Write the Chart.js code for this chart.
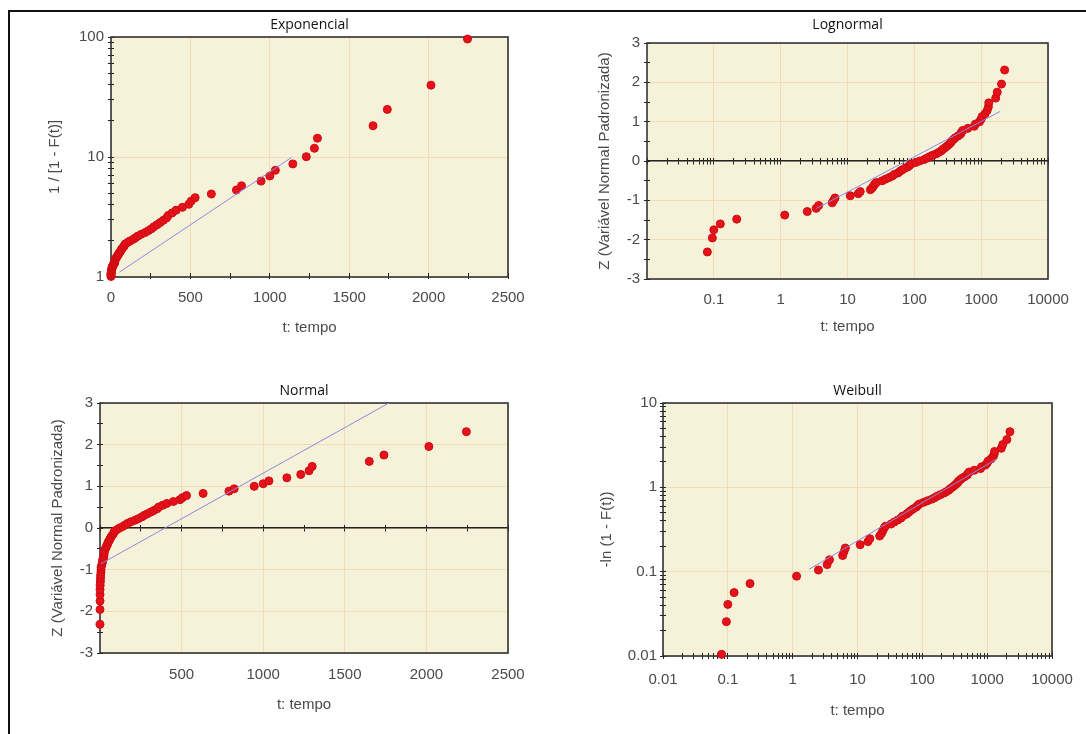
<!DOCTYPE html>
<html lang="pt">
<head>
<meta charset="UTF-8">
<title>Papéis de probabilidade</title>
<script src="https://cdn.jsdelivr.net/npm/chart.js"></script>
<style>
  body { margin: 0; background: #fff; }
  #quadro { position: relative; width: 1086px; height: 734px; overflow: hidden; }
  #quadro canvas { position: absolute; }
  .linha { position: absolute; background: #111; }
</style>
</head>
<body>
<div id="quadro">
  <div class="linha" style="left:8px;top:10px;width:1078px;height:2px"></div>
  <div class="linha" style="left:8px;top:10px;width:2px;height:724px"></div>
  <canvas id="gExp" width="503" height="345" style="left:37px;top:12px"></canvas>
  <canvas id="gLogn" width="485" height="345" style="left:585px;top:12px"></canvas>
  <canvas id="gNorm" width="500" height="362" style="left:40px;top:372px"></canvas>
  <canvas id="gWeib" width="496" height="362" style="left:590px;top:372px"></canvas>
</div>
<script>
// tempos de falha ordenados
const tempo = [0.08, 0.095, 0.1, 0.125, 0.22, 1.15, 2.5, 3.4, 3.7, 5.9,
  6.2, 6.5, 11, 14.5, 15.5, 22, 23.5, 24.5, 25.5, 27,
  33, 37, 42, 47, 50, 57, 61, 66, 72, 80,
  85, 90, 105, 120, 140, 155, 170, 190, 215, 235,
  255, 270, 290, 310, 330, 350, 360, 385, 410, 450,
  490, 505, 530, 632, 790, 822, 945, 1000, 1035, 1145,
  1230, 1281, 1300, 1650, 1740, 2015, 2245];

// F(t) estimado em cada tempo
const probF = [0.0104, 0.0252, 0.0401, 0.0549, 0.0697, 0.0846, 0.0994, 0.1142, 0.1291, 0.1439,
  0.1588, 0.1736, 0.1884, 0.2033, 0.2181, 0.2329, 0.2478, 0.2626, 0.2774, 0.2923,
  0.3071, 0.3220, 0.3368, 0.3516, 0.3665, 0.3813, 0.3961, 0.4110, 0.4258, 0.4407,
  0.4555, 0.4703, 0.4852, 0.5000, 0.5148, 0.5297, 0.5445, 0.5593, 0.5742, 0.5890,
  0.6039, 0.6187, 0.6335, 0.6484, 0.6632, 0.6780, 0.6929, 0.7077, 0.7226, 0.7374,
  0.7522, 0.7671, 0.7819, 0.7967, 0.8116, 0.8264, 0.8412, 0.8561, 0.8709, 0.8858,
  0.9006, 0.9154, 0.9303, 0.9451, 0.9599, 0.9748, 0.9896];

// Z (variável normal padronizada) de cada ponto
const zPadrao = [-2.312, -1.956, -1.751, -1.599, -1.478, -1.375, -1.285, -1.204, -1.131, -1.063,
  -1.000, -0.940, -0.884, -0.830, -0.778, -0.729, -0.681, -0.635, -0.590, -0.547,
  -0.504, -0.462, -0.421, -0.381, -0.341, -0.302, -0.263, -0.225, -0.187, -0.149,
  -0.112, -0.074, -0.037, 0, 0.037, 0.074, 0.112, 0.149, 0.187, 0.225,
  0.263, 0.302, 0.341, 0.381, 0.421, 0.462, 0.504, 0.547, 0.590, 0.635,
  0.681, 0.729, 0.778, 0.830, 0.884, 0.940, 1.000, 1.063, 1.131, 1.204,
  1.285, 1.375, 1.478, 1.599, 1.751, 1.956, 2.312];

// retas ajustadas (extremos)
const retaExpT = [54, 1136], retaExpY = [1.1, 9.9];
const retaLognT = [3.4, 1920], retaLognZ = [-1.21, 1.26];
const retaNormT = [5, 1770], retaNormZ = [-0.86, 3.0];
const retaWeibT = [1.8, 1450], retaWeibY = [0.107, 2.2];

// rótulos dos eixos
const ticksTempoLin = [0, 500, 1000, 1500, 2000, 2500];
const ticksTempoNorm = [500, 1000, 1500, 2000, 2500];
const ticksTempoLog = [0.01, 0.1, 1, 10, 100, 1000, 10000];
const ticksTempoLogn = [0.1, 1, 10, 100, 1000, 10000];
const ticksZ = [-3, -2, -1, 0, 1, 2, 3];
const ticksInvR = [1, 10, 100];
const ticksLnR = [0.01, 0.1, 1, 10];

const corFundo = '#F5F2D9';
const corGrade = '#F0DCBA';
const corTexto = '#4a4a4a';
const corPonto = '#E5121A';
const corReta = '#8C88DD';
const fonteEixo = { family: '"Liberation Sans", Arial, sans-serif', size: 15 };
const fonteTitulo = { family: '"Open Sans", sans-serif', size: 14, weight: 'normal' };

function passos(min, max, passo) {
  const v = [];
  for (let x = min; x <= max + 1e-9; x += passo) v.push(Math.round(x * 1000) / 1000);
  return v;
}

function menoresLog(decadas) {
  const v = [];
  decadas.forEach((d, i) => {
    if (i === decadas.length - 1) { v.push(d); return; }
    for (let k = 1; k <= 9; k++) v.push(k * d);
  });
  return v;
}

// fundo amarelo e moldura da área do gráfico
const moldura = {
  id: 'moldura',
  beforeDraw(chart) {
    const { ctx, chartArea: a } = chart;
    ctx.save();
    ctx.fillStyle = corFundo;
    ctx.fillRect(a.left, a.top, a.width, a.height);
    ctx.restore();
  },
  beforeDatasetsDraw(chart) {
    const { ctx, chartArea: a } = chart;
    ctx.save();
    ctx.strokeStyle = '#333';
    ctx.lineWidth = 1.6;
    ctx.strokeRect(a.left, a.top, a.width, a.height);
    ctx.restore();
  }
};

function eixo(tipo, min, max, valores, titulo, tamanho, padRotulo, padTitulo) {
  return {
    type: tipo, min: min, max: max,
    afterBuildTicks: s => { s.ticks = valores.map(v => ({ value: v })); },
    afterFit: s => {
      if (s.isHorizontal()) s.height = tamanho; else s.width = tamanho;
      s.paddingLeft = s.paddingRight = s.paddingTop = s.paddingBottom = 0;
    },
    grid: { color: corGrade, drawTicks: false },
    border: { display: false },
    ticks: { autoSkip: false, maxRotation: 0, padding: padRotulo, color: corTexto, font: fonteEixo,
      callback: v => String(v) },
    title: { display: true, text: titulo, color: corTexto, font: fonteEixo, padding: padTitulo }
  };
}

// escalas só para as marcas (cruzando o eixo)
function marcas(id, tipo, min, max, valores, posicao, comprimento, comBorda) {
  return {
    axis: id, type: tipo, min: min, max: max, position: posicao,
    afterBuildTicks: s => { s.ticks = valores.map(v => ({ value: v })); },
    afterFit: s => {
      if (s.isHorizontal()) s.height = 0; else s.width = 0;
      s.paddingLeft = s.paddingRight = s.paddingTop = s.paddingBottom = 0;
    },
    ticks: { display: false },
    grid: { drawOnChartArea: false, tickLength: comprimento, tickColor: '#222' },
    border: { display: comBorda, color: '#222', width: 1.5 },
    title: { display: false }
  };
}

function conjuntos(pontos, reta) {
  return [
    { data: reta, showLine: true, borderColor: corReta, borderWidth: 1, pointRadius: 0 },
    { data: pontos, backgroundColor: corPonto, borderColor: '#D00A12', borderWidth: 1,
      pointRadius: 4, clip: false }
  ];
}

function grafico(id, titulo, padTitulo, dir, datasets, scales) {
  return new Chart(document.getElementById(id), {
    type: 'scatter',
    data: { datasets: datasets },
    options: {
      responsive: false,
      animation: false,
      layout: { padding: { left: 0, right: dir, top: 0, bottom: 0 } },
      plugins: {
        legend: { display: false },
        tooltip: { enabled: false },
        title: { display: true, text: titulo, fullSize: false, color: '#111', font: fonteTitulo, padding: padTitulo }
      },
      scales: scales
    },
    plugins: [moldura]
  });
}

const lin250 = passos(0, 2500, 250);
const z05 = passos(-3, 3, 0.5);
const logTempo = menoresLog(ticksTempoLog);

// Exponencial
grafico('gExp', 'Exponencial', { top: 4.6, bottom: 3.6 }, 32,
  conjuntos(tempo.map((t, i) => ({ x: t, y: 1 / (1 - probF[i]) })),
    retaExpT.map((t, i) => ({ x: t, y: retaExpY[i] }))),
  {
    x: eixo('linear', 0, 2500, ticksTempoLin, 't: tempo', 80, 12, { top: 0, bottom: 20 }),
    y: eixo('logarithmic', 1, 100, ticksInvR, '1 / [1 - F(t)]', 74, 7, { top: 9, bottom: 0 }),
    xa: marcas('x', 'linear', 0, 2500, lin250, { y: 1 }, 2, false),
    xb: marcas('x', 'linear', 0, 2500, lin250, { y: 1 }, -4, false),
    ya: marcas('y', 'logarithmic', 1, 100, menoresLog(ticksInvR), { x: 0 }, 3, false),
    yb: marcas('y', 'logarithmic', 1, 100, menoresLog(ticksInvR), { x: 0 }, -3, false)
  });

// Lognormal
grafico('gLogn', 'Lognormal', { top: 4.6, bottom: 9.6 }, 22,
  conjuntos(tempo.map((t, i) => ({ x: t, y: zPadrao[i] })),
    retaLognT.map((t, i) => ({ x: t, y: retaLognZ[i] }))),
  {
    x: eixo('logarithmic', 0.01, 10000, ticksTempoLogn, 't: tempo', 78, 12, { top: 0, bottom: 21 }),
    y: eixo('linear', -3, 3, ticksZ, 'Z (Variável Normal Padronizada)', 62, 7, { top: 11, bottom: 0 }),
    xa: marcas('x', 'logarithmic', 0.01, 10000, logTempo, { y: 0 }, 3, true),
    xb: marcas('x', 'logarithmic', 0.01, 10000, logTempo, { y: 0 }, -3, false),
    ya: marcas('y', 'linear', -3, 3, z05, { x: 0.01 }, 3, false),
    yb: marcas('y', 'linear', -3, 3, z05, { x: 0.01 }, -3, false)
  });

// Normal
grafico('gNorm', 'Normal', { top: 10.6, bottom: 3.6 }, 32,
  conjuntos(tempo.map((t, i) => ({ x: t, y: zPadrao[i] })),
    retaNormT.map((t, i) => ({ x: t, y: retaNormZ[i] }))),
  {
    x: eixo('linear', 0, 2500, ticksTempoNorm, 't: tempo', 81, 13, { top: 0, bottom: 20 }),
    y: eixo('linear', -3, 3, ticksZ, 'Z (Variável Normal Padronizada)', 60, 7, { top: 9, bottom: 0 }),
    xa: marcas('x', 'linear', 0, 2500, lin250, { y: 0 }, 3, true),
    xb: marcas('x', 'linear', 0, 2500, lin250, { y: 0 }, -3, false),
    ya: marcas('y', 'linear', -3, 3, z05, { x: 0 }, 3, false),
    yb: marcas('y', 'linear', -3, 3, z05, { x: 0 }, -3, false)
  });

// Weibull
grafico('gWeib', 'Weibull', { top: 10.6, bottom: 3.6 }, 34,
  conjuntos(tempo.map((t, i) => ({ x: t, y: -Math.log(1 - probF[i]) })),
    retaWeibT.map((t, i) => ({ x: t, y: retaWeibY[i] }))),
  {
    x: eixo('logarithmic', 0.01, 10000, ticksTempoLog, 't: tempo', 78, 15, { top: 0, bottom: 14 }),
    y: eixo('logarithmic', 0.01, 10, ticksLnR, '-ln (1 - F(t))', 73, 6, { top: 8, bottom: 0 }),
    xa: marcas('x', 'logarithmic', 0.01, 10000, logTempo, { y: 0.01 }, 3, false),
    xb: marcas('x', 'logarithmic', 0.01, 10000, logTempo, { y: 0.01 }, -3, false),
    ya: marcas('y', 'logarithmic', 0.01, 10, menoresLog(ticksLnR), { x: 0.01 }, 3, false),
    yb: marcas('y', 'logarithmic', 0.01, 10, menoresLog(ticksLnR), { x: 0.01 }, -3, false)
  });
</script>
</body>
</html>
